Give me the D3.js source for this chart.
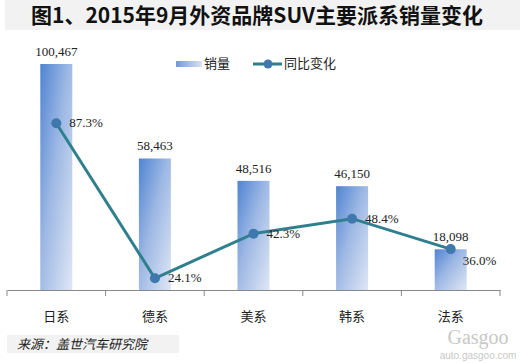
<!DOCTYPE html>
<html>
<head>
<meta charset="utf-8">
<script src="https://cdn.jsdelivr.net/npm/d3@7/dist/d3.min.js"></script>
<style>
  body { margin: 0; background: #fff; }
  svg { display: block; }
</style>
</head>
<body>
<script>
// 2015年9月 外资品牌SUV 派系销量 + 同比变化
const categories = ['日系', '德系', '美系', '韩系', '法系'];
const sales = [100467, 58463, 48516, 46150, 18098];
const yoy = [87.3, 24.1, 42.3, 48.4, 36.0];
const pctLabels = ['87.3%', '24.1%', '42.3%', '48.4%', '36.0%'];

const W = 525, H = 363;
const axisY = 290;

const svg = d3.select('body').append('svg')
  .attr('width', W)
  .attr('height', H);

const defs = svg.append('defs');
const grad = defs.append('linearGradient')
  .attr('id', 'barGrad')
  .attr('x1', '0%').attr('y1', '0%')
  .attr('x2', '100%').attr('y2', '100%');
grad.append('stop').attr('offset', '0%').attr('stop-color', '#4f84d2');
grad.append('stop').attr('offset', '45%').attr('stop-color', '#9db8e4');
grad.append('stop').attr('offset', '100%').attr('stop-color', '#dfe7f5');

const legGrad = defs.append('linearGradient')
  .attr('id', 'legGrad')
  .attr('x1', '0%').attr('y1', '0%')
  .attr('x2', '100%').attr('y2', '0%');
legGrad.append('stop').attr('offset', '0%').attr('stop-color', '#6f98d8');
legGrad.append('stop').attr('offset', '100%').attr('stop-color', '#dbe4f4');

// title band
svg.append('rect')
  .attr('x', 5).attr('y', 0).attr('width', 515).attr('height', 30)
  .attr('fill', '#f2f2f2');
svg.append('text')
  .attr('x', 257).attr('y', 23)
  .attr('text-anchor', 'middle')
  .attr('font-family', '"Noto Sans CJK SC", sans-serif')
  .attr('font-weight', 'bold')
  .attr('font-size', 21)
  .attr('fill', '#111')
  .text('图1、2015年9月外资品牌SUV主要派系销量变化');

// scales
const x = d3.scaleBand()
  .domain(categories)
  .range([7, 500])
  .paddingInner(0)
  .paddingOuter(0);

const y = d3.scaleLinear()
  .domain([0, 100467])
  .range([axisY, 64]);

const y2 = d3.scaleLinear()
  .domain([0, 100])
  .range([337.4, 92.1]);

// bars
const barW = 32;
svg.append('g').selectAll('rect')
  .data(sales)
  .join('rect')
  .attr('x', (d, i) => x(categories[i]) + x.bandwidth() / 2 - barW / 2)
  .attr('y', d => y(d))
  .attr('width', barW)
  .attr('height', d => axisY - y(d))
  .attr('fill', 'url(#barGrad)');

// bar value labels
svg.append('g').selectAll('text')
  .data(sales)
  .join('text')
  .attr('x', (d, i) => x(categories[i]) + x.bandwidth() / 2)
  .attr('y', d => y(d) - 8)
  .attr('text-anchor', 'middle')
  .attr('font-family', '"Liberation Serif", serif')
  .attr('font-size', 13)
  .attr('fill', '#222')
  .text(d => d3.format(',')(d));

// x axis
const axis = svg.append('g')
  .attr('transform', `translate(0,${axisY})`)
  .call(d3.axisBottom(x).tickSize(0).tickFormat(''));
axis.select('.domain').attr('stroke', '#888').attr('stroke-width', 1);
const tickXs = categories.map(c => x(c)).concat([x.range()[1]]);
svg.append('g').selectAll('line')
  .data(tickXs)
  .join('line')
  .attr('x1', d => d).attr('x2', d => d)
  .attr('y1', axisY).attr('y2', axisY + 6)
  .attr('stroke', '#888');

svg.append('g').selectAll('text')
  .data(categories)
  .join('text')
  .attr('x', d => x(d) + x.bandwidth() / 2)
  .attr('y', 321)
  .attr('text-anchor', 'middle')
  .attr('font-family', '"Noto Sans CJK SC", sans-serif')
  .attr('font-size', 13)
  .attr('fill', '#222')
  .text(d => d);

// yoy line
const line = d3.line()
  .x((d, i) => x(categories[i]) + x.bandwidth() / 2)
  .y(d => y2(d));
svg.append('path')
  .datum(yoy)
  .attr('d', line)
  .attr('fill', 'none')
  .attr('stroke', '#2f7f8e')
  .attr('stroke-width', 3);

svg.append('g').selectAll('circle')
  .data(yoy)
  .join('circle')
  .attr('cx', (d, i) => x(categories[i]) + x.bandwidth() / 2)
  .attr('cy', d => y2(d))
  .attr('r', 5)
  .attr('fill', '#3f78ad');

// pct labels: right of point, last one below-right
svg.append('g').selectAll('text')
  .data(yoy)
  .join('text')
  .attr('x', (d, i) => x(categories[i]) + x.bandwidth() / 2 + (i === 4 ? 12 : 13))
  .attr('y', (d, i) => y2(d) + (i === 4 ? 16 : 4))
  .attr('font-family', '"Liberation Serif", serif')
  .attr('font-size', 13)
  .attr('fill', '#222')
  .text((d, i) => pctLabels[i]);

// legend
const leg = svg.append('g');
leg.append('rect')
  .attr('x', 176).attr('y', 61).attr('width', 26).attr('height', 6)
  .attr('fill', 'url(#legGrad)');
leg.append('text')
  .attr('x', 204).attr('y', 68)
  .attr('font-family', '"Noto Sans CJK SC", sans-serif')
  .attr('font-size', 13).attr('fill', '#222')
  .text('销量');
leg.append('line')
  .attr('x1', 253).attr('x2', 282).attr('y1', 64).attr('y2', 64)
  .attr('stroke', '#2f7f8e').attr('stroke-width', 3);
leg.append('circle')
  .attr('cx', 268).attr('cy', 64).attr('r', 4.5).attr('fill', '#3f78ad');
leg.append('text')
  .attr('x', 284).attr('y', 68)
  .attr('font-family', '"Noto Sans CJK SC", sans-serif')
  .attr('font-size', 13).attr('fill', '#222')
  .text('同比变化');

// source box
svg.append('rect')
  .attr('x', 7).attr('y', 335).attr('width', 172).attr('height', 18)
  .attr('fill', '#f2f2f2');
svg.append('text')
  .attr('x', 17).attr('y', 349)
  .attr('font-family', '"Noto Sans CJK SC", sans-serif')
  .attr('font-style', 'italic')
  .attr('font-size', 13).attr('fill', '#222')
  .text('来源：盖世汽车研究院');

// watermark
const wm = svg.append('g').attr('fill', '#c8c8c8');
wm.append('text')
  .attr('x', 478).attr('y', 344)
  .attr('text-anchor', 'middle')
  .attr('font-family', '"Liberation Serif", serif')
  .attr('font-size', 20)
  .text('Gasgoo');
wm.append('text')
  .attr('x', 478).attr('y', 359)
  .attr('text-anchor', 'middle')
  .attr('font-family', 'Arial, "Liberation Sans", sans-serif')
  .attr('font-size', 10)
  .text('auto.gasgoo.com');
</script>
</body>
</html>
